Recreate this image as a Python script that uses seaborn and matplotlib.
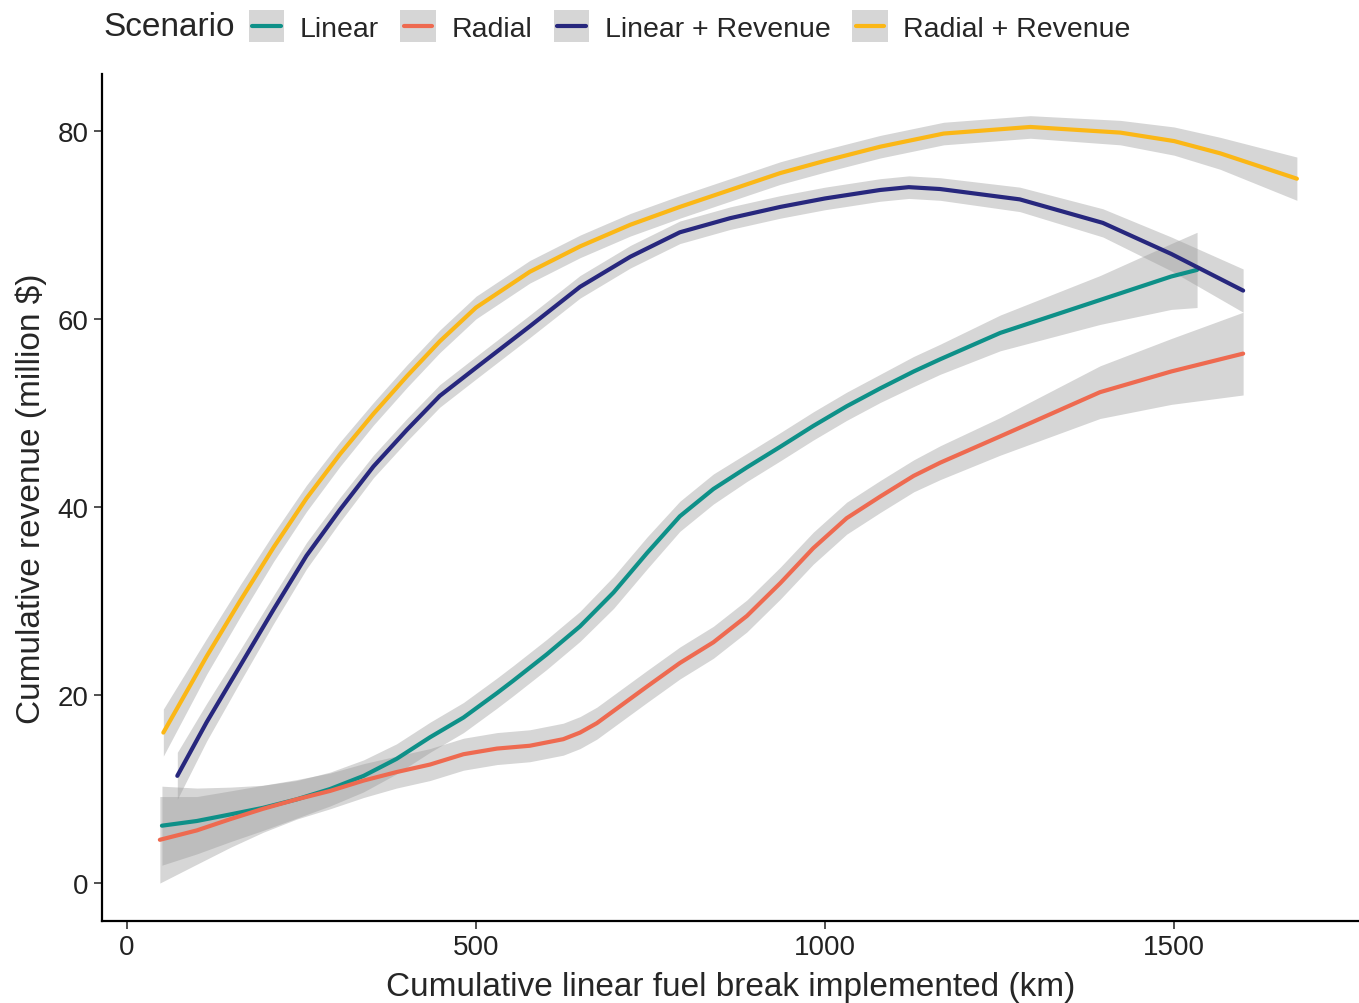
import matplotlib
matplotlib.use("Agg")
import matplotlib.pyplot as plt
import pandas as pd
import seaborn as sns
from matplotlib.lines import Line2D
from matplotlib.patches import Rectangle

# smoothed fits (x in km, y in million $, se = half band width)
linear_x = [50, 100, 148, 195, 243, 291, 339, 386, 434, 482, 530, 553, 601, 649, 697, 745, 792, 840,
            888, 936, 983, 1031, 1079, 1127, 1165, 1251, 1394, 1496, 1533]
linear_y = [6.1, 6.6, 7.3, 8.0, 8.9, 10.0, 11.4, 13.2, 15.5, 17.6, 20.2, 21.5, 24.3, 27.3, 30.9, 35.1, 39.0, 41.9,
            44.2, 46.4, 48.6, 50.7, 52.6, 54.4, 55.7, 58.5, 62.0, 64.5, 65.2]
linear_se = [4.2, 3.5, 2.9, 2.4, 2.0, 1.8, 1.7, 1.6, 1.6, 1.6, 1.6, 1.6, 1.6, 1.6, 1.7, 1.7, 1.6, 1.6,
             1.5, 1.5, 1.5, 1.5, 1.5, 1.6, 1.6, 1.9, 2.6, 3.5, 4.0]

radial_x = [47, 100, 148, 195, 243, 291, 339, 386, 434, 482, 530, 577, 625, 649, 673, 697, 745, 792, 840,
            888, 936, 983, 1031, 1079, 1127, 1165, 1251, 1394, 1496, 1599]
radial_y = [4.6, 5.6, 6.8, 7.9, 8.9, 9.8, 10.9, 11.8, 12.6, 13.7, 14.3, 14.6, 15.3, 16.0, 17.0, 18.3, 20.9, 23.4, 25.6,
            28.4, 31.9, 35.6, 38.8, 41.1, 43.3, 44.7, 47.5, 52.2, 54.4, 56.3]
radial_se = [4.6, 3.6, 3.0, 2.5, 2.1, 1.9, 1.8, 1.7, 1.7, 1.7, 1.7, 1.7, 1.7, 1.7, 1.7, 1.7, 1.7, 1.7, 1.7,
             1.7, 1.7, 1.7, 1.7, 1.7, 1.7, 1.8, 2.0, 2.8, 3.5, 4.4]

linrev_x = [72, 114, 162, 210, 257, 305, 353, 401, 448, 500, 577, 649, 721, 792, 864, 936, 1000, 1079,
            1120, 1165, 1279, 1398, 1496, 1599]
linrev_y = [11.4, 17.1, 23.1, 29.1, 34.8, 39.7, 44.3, 48.2, 51.8, 54.8, 59.2, 63.4, 66.6, 69.2, 70.7, 71.9, 72.8, 73.7,
            74.0, 73.8, 72.7, 70.2, 66.9, 63.0]
linrev_se = [2.5, 2.0, 1.7, 1.5, 1.4, 1.3, 1.2, 1.2, 1.2, 1.2, 1.2, 1.2, 1.2, 1.2, 1.2, 1.2, 1.2, 1.2,
             1.2, 1.2, 1.3, 1.5, 1.8, 2.3]

radrev_x = [52, 114, 162, 210, 257, 305, 353, 401, 448, 500, 577, 649, 721, 792, 864, 936, 1000, 1079,
            1170, 1294, 1423, 1500, 1566, 1676]
radrev_y = [16.0, 24.1, 30.0, 35.7, 40.9, 45.6, 49.9, 53.9, 57.6, 61.2, 65.0, 67.7, 70.0, 71.9, 73.7, 75.5, 76.8, 78.3,
            79.7, 80.4, 79.8, 78.9, 77.6, 74.9]
radrev_se = [2.5, 1.9, 1.7, 1.5, 1.4, 1.3, 1.2, 1.2, 1.2, 1.2, 1.2, 1.2, 1.2, 1.2, 1.2, 1.2, 1.2, 1.2,
             1.2, 1.2, 1.3, 1.5, 1.7, 2.3]

scenarios = ["Linear", "Radial", "Linear + Revenue", "Radial + Revenue"]
colors = ["#0e9088", "#ee6a50", "#27277d", "#fbb716"]

series = {
    "Linear": (linear_x, linear_y, linear_se),
    "Radial": (radial_x, radial_y, radial_se),
    "Linear + Revenue": (linrev_x, linrev_y, linrev_se),
    "Radial + Revenue": (radrev_x, radrev_y, radrev_se),
}

frames = []
for name in scenarios:
    x, y, se = series[name]
    d = pd.DataFrame({"x": x, "y": y, "se": se})
    d["Scenario"] = name
    frames.append(d)
df = pd.concat(frames, ignore_index=True)

sns.set_style("ticks")
plt.rcParams["font.family"] = ["Liberation Sans", "DejaVu Sans"]

fig = plt.figure(figsize=(13.59, 10.04), dpi=100)
ax = fig.add_axes([0.075, 0.082, 0.925, 0.843])

for name in scenarios:
    d = df[df["Scenario"] == name]
    ax.fill_between(d["x"], d["y"] - d["se"], d["y"] + d["se"],
                    color="#999999", alpha=0.4, linewidth=0)

sns.lineplot(data=df, x="x", y="y", hue="Scenario", hue_order=scenarios,
             palette=colors, estimator=None, sort=False, linewidth=3.0,
             legend=False, ax=ax)

ax.set_xlim(-36, 1765)
ax.set_ylim(-4.0, 86.0)
ax.set_xticks([0, 500, 1000, 1500])
ax.set_yticks([0, 20, 40, 60, 80])
ax.set_xlabel("Cumulative linear fuel break implemented (km)", fontsize=24, labelpad=8)
ax.set_ylabel("Cumulative revenue (million $)", fontsize=24, labelpad=8)
ax.tick_params(labelsize=20, length=6, width=1.2, color="#333333", labelcolor="#222222")
for s in ["top", "right"]:
    ax.spines[s].set_visible(False)
for s in ["left", "bottom"]:
    ax.spines[s].set_linewidth(1.6)
    ax.spines[s].set_color("black")


class KeyHandler:
    # grey se background with the coloured line on top, like ggplot keys
    def legend_artist(self, legend, orig_handle, fontsize, handlebox):
        x0, y0 = -handlebox.xdescent, -handlebox.ydescent
        w, h = handlebox.width, handlebox.height
        tr = handlebox.get_transform()
        rect = Rectangle((x0, y0), w, h, facecolor="#d6d6d6", edgecolor="none", transform=tr)
        line = Line2D([x0 + 0.1 * w, x0 + 0.9 * w], [y0 + h / 2, y0 + h / 2],
                      color=orig_handle.get_color(), linewidth=3.0, transform=tr)
        handlebox.add_artist(rect)
        handlebox.add_artist(line)
        return rect


handles = [Line2D([], [], color=c) for c in colors]
fig.text(0.076, 0.973, "Scenario", fontsize=24, va="center", ha="left")
fig.legend(handles, scenarios, handler_map={Line2D: KeyHandler()},
           loc="center left", bbox_to_anchor=(0.183, 0.973), ncol=4, frameon=False,
           fontsize=20.5, handlelength=1.25, handleheight=1.38, handletextpad=0.55,
           columnspacing=0.75, borderaxespad=0, borderpad=0)

fig.savefig("out.png", dpi=100)
